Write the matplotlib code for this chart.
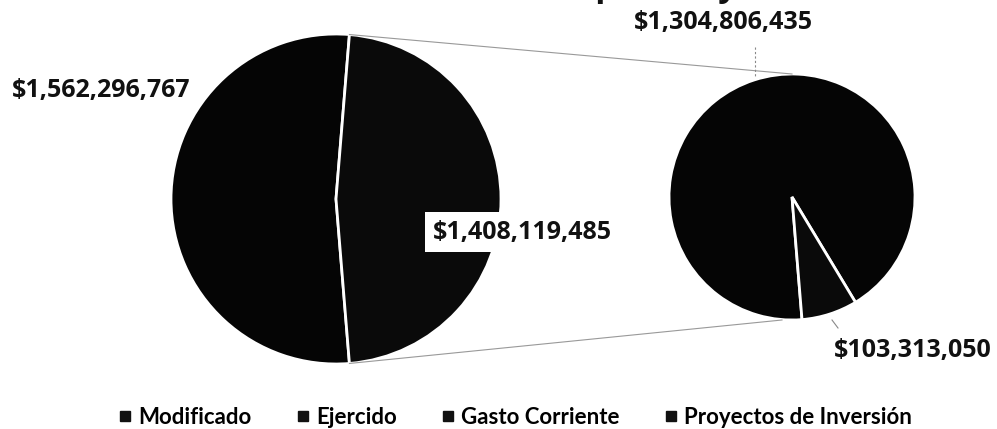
import numpy as np
import matplotlib.pyplot as plt
from matplotlib.lines import Line2D

# datos del grafico
left_labels = ['Modificado', 'Ejercido']
left_values = [1562296767, 1408119485]
right_labels = ['Gasto Corriente', 'Proyectos de Inversión']
right_values = [1304806435, 103313050]
legend_labels = left_labels + right_labels
title_text = 'Distribución del Presupuesto y'

W, H = 997, 429


def Y(y):
    # coordenadas de pixel (y hacia abajo) -> datos
    return H - y


def money(v):
    return '${:,.0f}'.format(v)


fig = plt.figure(figsize=(W / 100, H / 100), dpi=100)
ax = fig.add_axes([0, 0, 1, 1])

lc, lr = (336, Y(199)), 165
rc, rr = (792, Y(197)), 123

# mitad del angulo de la rebanada "Ejercido"
half = 180 * left_values[1] / sum(left_values)

ax.pie(left_values, colors=['#050505', '#0a0a0a'], startangle=half,
       center=lc, radius=lr, counterclock=True,
       wedgeprops=dict(edgecolor='white', linewidth=2))
ax.pie(right_values, colors=['#050505', '#0a0a0a'], startangle=-half,
       center=rc, radius=rr, counterclock=False,
       wedgeprops=dict(edgecolor='white', linewidth=2))

# lineas de conexion entre las dos graficas
a = np.deg2rad(half)
ax.plot([lc[0] + lr * np.cos(a), rc[0]], [lc[1] + lr * np.sin(a), rc[1] + rr],
        color='#999999', lw=0.8)
ax.plot([lc[0] + lr * np.cos(-a), rc[0] - 10], [lc[1] + lr * np.sin(-a), rc[1] - rr],
        color='#999999', lw=0.8)

lab = dict(fontfamily='Open Sans', fontweight='bold', fontsize=18,
           ha='center', va='center', color='#111111')
ax.text(101, Y(91), money(left_values[0]), **lab)
ax.text(522, Y(232), money(left_values[1]),
        bbox=dict(boxstyle='square,pad=0.3', facecolor='white', edgecolor='none'), **lab)
ax.text(723, Y(22), money(right_values[0]), **lab)
ax.text(913, Y(350), money(right_values[1]), **lab)

# lineas guia de etiquetas
ax.plot([755, 755], [Y(47), Y(78)], color='#888888', lw=0.8, ls=(0, (2, 2)))
ax.plot([832, 838], [Y(320), Y(328)], color='#888888', lw=0.8)

# titulo (cortado en el borde superior)
ax.text(483, Y(-3.5), title_text, fontfamily='Open Sans', fontweight='bold',
        fontsize=24, ha='center', va='baseline', color='#111111')

ax.set_xlim(0, W)
ax.set_ylim(0, H)
ax.set_aspect('equal')
ax.axis('off')

handles = [Line2D([], [], marker='s', ls='none', color='#111111', markersize=7.5)
           for _ in legend_labels]
fig.legend(handles, legend_labels, loc='center', bbox_to_anchor=(515 / W, 1 - 417 / H),
           ncol=4, frameon=False, handlelength=0.6, handletextpad=0.3, columnspacing=2.0,
           prop=dict(family='Lato', weight='bold', size=16))

fig.savefig('out.png', dpi=100)
